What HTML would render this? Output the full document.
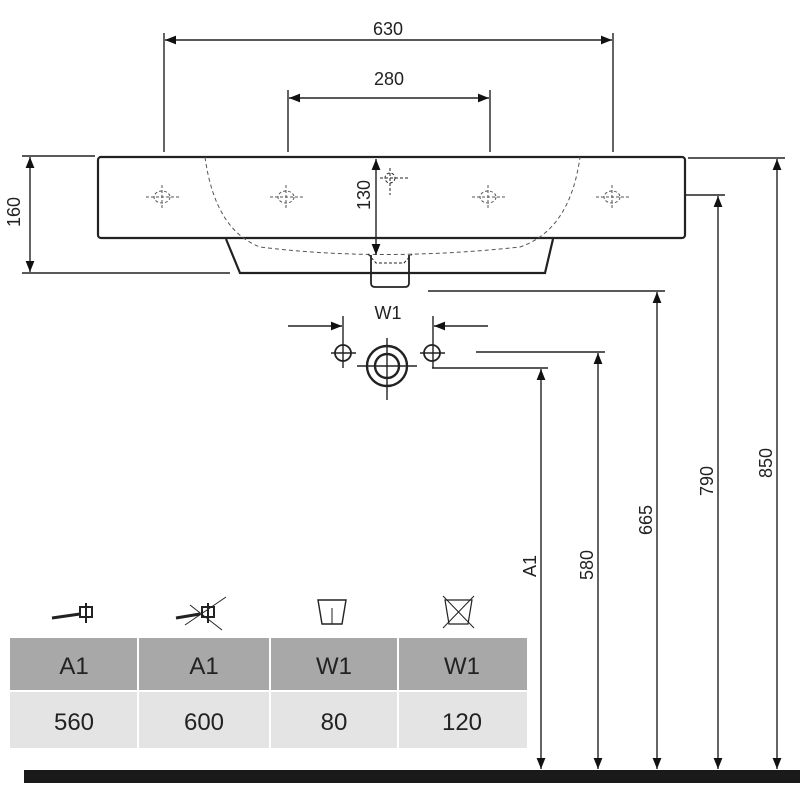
<!DOCTYPE html>
<html><head><style>
body{margin:0;background:#fff}
svg{display:block}
text{font-family:"Liberation Sans",sans-serif;fill:#222}
</style></head><body>
<svg width="800" height="800" viewBox="0 0 800 800" xmlns="http://www.w3.org/2000/svg">
<defs>
<marker id="a" viewBox="0 0 10 10" refX="10" refY="5" markerWidth="12" markerHeight="11" orient="auto-start-reverse" markerUnits="userSpaceOnUse"><path d="M0,1 L10,5 L0,9z" fill="#111"/></marker>
</defs>
<g stroke="#222" stroke-width="1.4" fill="none">
<line x1="164" y1="33" x2="164" y2="152"/><line x1="613" y1="33" x2="613" y2="152"/>
<line x1="165" y1="40" x2="612" y2="40" marker-start="url(#a)" marker-end="url(#a)"/>
<line x1="288" y1="90" x2="288" y2="152"/><line x1="490" y1="90" x2="490" y2="152"/>
<line x1="289" y1="98" x2="489" y2="98" marker-start="url(#a)" marker-end="url(#a)"/>
<line x1="22" y1="156" x2="95" y2="156"/><line x1="22" y1="273" x2="230" y2="273"/>
<line x1="30" y1="157" x2="30" y2="272" marker-start="url(#a)" marker-end="url(#a)"/>
<rect x="98" y="157" width="587" height="81" rx="3" stroke-width="2.2"/>
<path d="M226,239 L240,273 L545,273 L553,239" stroke-width="2.2"/>
<path d="M371,255 L371,283 Q371,287 375,287 L405,287 Q409,287 409,283 L409,255" stroke-width="1.8"/>
<path d="M205,157 Q215,230 260,247 Q380,262 520,247 Q570,230 580,157" stroke-dasharray="4,3" stroke-width="1" stroke="#555"/>
<path d="M368,254 L376,263 L404,263 L412,254" stroke-dasharray="3,2" stroke-width="1"/>
<line x1="376" y1="159" x2="376" y2="255" marker-start="url(#a)" marker-end="url(#a)"/>
<g stroke-width="1" stroke-dasharray="3,2">
<circle cx="390" cy="178" r="5"/><line x1="380" y1="178" x2="410" y2="178"/><line x1="390" y1="168" x2="390" y2="195"/>
</g>
<g stroke="#555" stroke-width="1" stroke-dasharray="3,2">
<ellipse cx="162" cy="197" rx="8" ry="6"/><line x1="146" y1="197" x2="180" y2="197"/><line x1="162" y1="185" x2="162" y2="210"/>
<ellipse cx="286" cy="197" rx="8" ry="6"/><line x1="270" y1="197" x2="304" y2="197"/><line x1="286" y1="185" x2="286" y2="210"/>
<ellipse cx="488" cy="197" rx="8" ry="6"/><line x1="472" y1="197" x2="506" y2="197"/><line x1="488" y1="185" x2="488" y2="210"/>
<ellipse cx="612" cy="197" rx="8" ry="6"/><line x1="596" y1="197" x2="630" y2="197"/><line x1="612" y1="185" x2="612" y2="210"/>
</g>
<line x1="288" y1="326" x2="342" y2="326" marker-end="url(#a)"/>
<line x1="488" y1="326" x2="434" y2="326" marker-end="url(#a)"/>
<line x1="343" y1="316" x2="343" y2="368"/><line x1="433" y1="316" x2="433" y2="368"/>
<circle cx="343" cy="353" r="8" stroke-width="1.8"/><line x1="331" y1="353" x2="356" y2="353"/>
<circle cx="432" cy="353" r="8" stroke-width="1.8"/><line x1="420" y1="353" x2="445" y2="353"/>
<circle cx="387" cy="366" r="20" stroke-width="2.4"/><circle cx="387" cy="366" r="12" stroke-width="2.4"/>
<line x1="387" y1="338" x2="387" y2="400"/><line x1="357" y1="366" x2="417" y2="366"/>
<line x1="688" y1="158" x2="785" y2="158"/>
<line x1="777" y1="159" x2="777" y2="769" marker-start="url(#a)" marker-end="url(#a)"/>
<line x1="686" y1="195" x2="725" y2="195"/>
<line x1="718" y1="196" x2="718" y2="769" marker-start="url(#a)" marker-end="url(#a)"/>
<line x1="428" y1="291" x2="665" y2="291"/>
<line x1="657" y1="292" x2="657" y2="769" marker-start="url(#a)" marker-end="url(#a)"/>
<line x1="476" y1="352" x2="605" y2="352"/>
<line x1="598" y1="353" x2="598" y2="769" marker-start="url(#a)" marker-end="url(#a)"/>
<line x1="432" y1="368" x2="548" y2="368"/>
<line x1="541" y1="369" x2="541" y2="769" marker-start="url(#a)" marker-end="url(#a)"/>
</g>
<g font-size="18">
<text x="388" y="35" text-anchor="middle">630</text>
<text x="389" y="85" text-anchor="middle">280</text>
<text x="388" y="319" text-anchor="middle">W1</text>
<text transform="translate(20,212) rotate(-90)" text-anchor="middle">160</text>
<text transform="translate(370,195) rotate(-90)" text-anchor="middle">130</text>
<text transform="translate(772,463) rotate(-90)" text-anchor="middle">850</text>
<text transform="translate(713,481) rotate(-90)" text-anchor="middle">790</text>
<text transform="translate(652,520) rotate(-90)" text-anchor="middle">665</text>
<text transform="translate(593,565) rotate(-90)" text-anchor="middle">580</text>
<text transform="translate(536,566) rotate(-90)" text-anchor="middle">A1</text>
</g>
<rect x="10" y="638" width="517" height="52" fill="#a8a8a8"/>
<rect x="10" y="692" width="517" height="56" fill="#e4e4e4"/>
<g stroke="#fff" stroke-width="2"><line x1="138" y1="638" x2="138" y2="748"/><line x1="270" y1="638" x2="270" y2="748"/><line x1="398" y1="638" x2="398" y2="748"/></g>
<g font-size="24" text-anchor="middle">
<text x="74" y="674">A1</text><text x="204" y="674">A1</text><text x="334" y="674">W1</text><text x="462" y="674">W1</text>
<text x="74" y="730">560</text><text x="204" y="730">600</text><text x="334" y="730">80</text><text x="462" y="730">120</text>
</g>
<g stroke="#222" stroke-width="2" fill="none">
<path d="M52,618 L80,614" stroke-width="3"/><rect x="80" y="607" width="12" height="10"/><line x1="86" y1="603" x2="86" y2="623"/>
<path d="M176,618 L200,614" stroke-width="3"/><rect x="202" y="607" width="12" height="10"/><line x1="208" y1="603" x2="208" y2="623"/>
<line x1="185" y1="625" x2="226" y2="597" stroke-width="1"/><line x1="190" y1="605" x2="222" y2="630" stroke-width="1"/>
<path d="M318,600 L346,600 L342,624 L322,624 Z" stroke-width="1.4"/><line x1="332" y1="608" x2="332" y2="624" stroke-width="1"/>
<path d="M445,600 L472,600 L468,624 L449,624 Z" stroke-width="1.2"/><line x1="443" y1="596" x2="474" y2="628" stroke-width="1"/><line x1="474" y1="596" x2="443" y2="628" stroke-width="1"/>
</g>
<rect x="24" y="770" width="776" height="13" fill="#1a1a1a"/>
</svg>
</body></html>
